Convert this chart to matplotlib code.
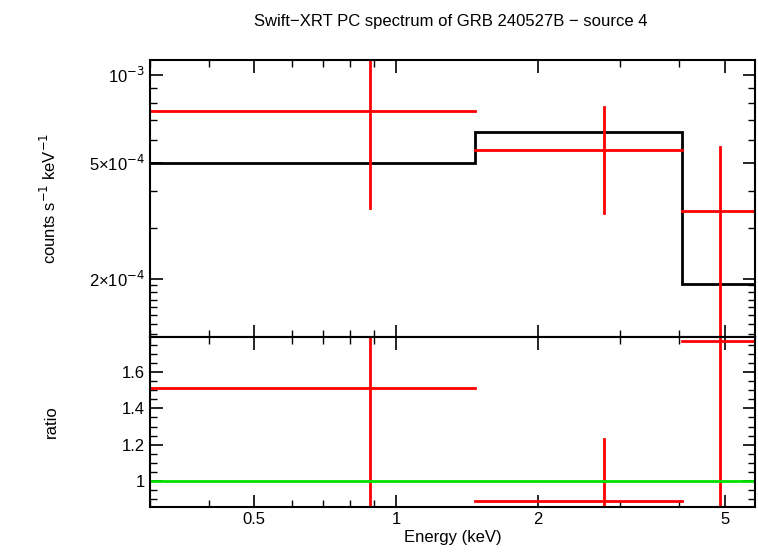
import numpy as np
import matplotlib.pyplot as plt
from matplotlib.ticker import FixedLocator, NullFormatter, FixedFormatter

plt.rcParams['font.family'] = 'Liberation Sans'

# bin edges (keV)
bin_lo = [0.30, 1.47, 4.06]
bin_hi = [1.47, 4.06, 5.80]
bin_c = [0.88, 2.77, 4.88]

# spectrum (counts s^-1 keV^-1)
rate = [7.53e-4, 5.54e-4, 3.42e-4]
rate_up = [1.5e-3, 7.77e-4, 5.67e-4]
rate_dn = [3.5e-4, 3.37e-4, 1.0e-4]
model = [5.0e-4, 6.38e-4, 1.92e-4]

# ratio
ratio = [1.51, 0.89, 1.77]
ratio_up = [2.0, 1.23, 2.0]
ratio_dn = [0.5, 0.5, 0.5]

fig = plt.figure(figsize=(7.58, 5.56), dpi=100)
ax1 = fig.add_axes([150/758, 1-337/556, 605/758, 277/556])
ax2 = fig.add_axes([150/758, 1-507/556, 605/758, 170/556], sharex=ax1)

# model step
xs = bin_lo + [bin_hi[-1]]
ax1.stairs(model, xs, color='black', lw=2, baseline=None)
for i in range(3):
    ax1.plot([bin_lo[i], bin_hi[i]], [rate[i]] * 2, color='red', lw=2)
    ax1.plot([bin_c[i]] * 2, [rate_dn[i], rate_up[i]], color='red', lw=2)
    ax2.plot([bin_lo[i], bin_hi[i]], [ratio[i]] * 2, color='red', lw=2)
    ax2.plot([bin_c[i]] * 2, [ratio_dn[i], ratio_up[i]], color='red', lw=2)
ax2.axhline(1.0, color='#00e000', lw=2)

ax1.set_xscale('log')
ax1.set_yscale('log')
ax1.set_xlim(0.3, 5.8)
ax1.set_ylim(1.265e-4, 1.125e-3)
ax2.set_ylim(0.857, 1.793)

ax1.yaxis.set_major_locator(FixedLocator([2e-4, 5e-4, 1e-3]))
ax1.yaxis.set_major_formatter(FixedFormatter(['2×10$^{-4}$', '5×10$^{-4}$', '10$^{-3}$']))
ax1.yaxis.set_minor_locator(FixedLocator([1.3e-4, 1.4e-4, 1.5e-4, 1.6e-4, 1.7e-4, 1.8e-4, 1.9e-4,
                                          3e-4, 4e-4, 6e-4, 7e-4, 8e-4, 9e-4]))
ax1.yaxis.set_minor_formatter(NullFormatter())

ax2.xaxis.set_major_locator(FixedLocator([0.5, 1, 2, 5]))
ax2.xaxis.set_major_formatter(FixedFormatter(['0.5', '1', '2', '5']))
ax2.xaxis.set_minor_locator(FixedLocator([0.3, 0.4, 0.6, 0.7, 0.8, 0.9, 3, 4]))
ax2.xaxis.set_minor_formatter(NullFormatter())
ax2.set_yticks([1, 1.2, 1.4, 1.6])
ax2.set_yticklabels(['1', '1.2', '1.4', '1.6'])
ax2.yaxis.set_minor_locator(FixedLocator(np.arange(0.9, 1.8, 0.05)))
plt.setp(ax1.get_xticklabels(), visible=False)

for ax in (ax1, ax2):
    ax.tick_params(which='both', direction='in', top=True, right=True, labelsize=12)
    ax.tick_params(which='major', length=9, width=1.2)
    ax.tick_params(which='minor', length=5, width=1)
    for s in ax.spines.values():
        s.set_linewidth(1.5)

ax1.set_ylabel('counts s$^{-1}$ keV$^{-1}$', fontsize=12)
ax2.set_ylabel('ratio', fontsize=12)
ax2.yaxis.set_label_coords(-0.15, 0.5)
ax1.yaxis.set_label_coords(-0.15, 0.5)
ax2.set_xlabel('Energy (keV)', fontsize=12, labelpad=2)
fig.suptitle('Swift\u2212XRT PC spectrum of GRB 240527B \u2212 source 4', fontsize=12, y=0.975, x=0.595)

fig.savefig('out.png', dpi=100)
